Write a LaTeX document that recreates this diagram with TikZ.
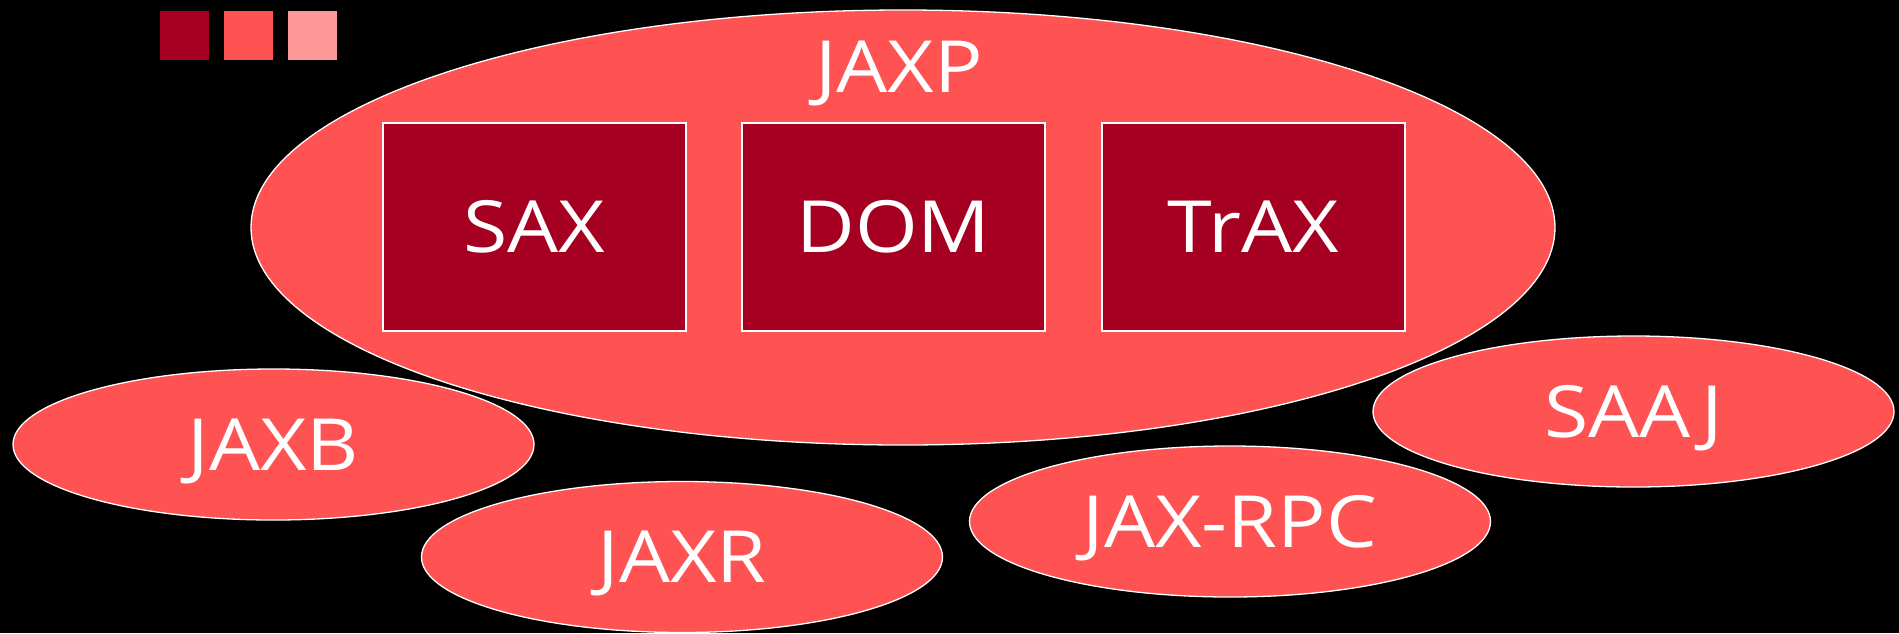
\documentclass[tikz,border=0pt]{standalone}
\usepackage{fontspec}
\setmainfont[FakeStretch=1.12]{Open Sans}
\usetikzlibrary{shapes.geometric}
\definecolor{deepred}{HTML}{A50021}
\definecolor{coral}{HTML}{FF5252}
\definecolor{blush}{HTML}{FF9999}
\tikzset{
  bigtext/.style={text=white, font=\fontsize{72}{80}\selectfont,
    text height=51pt, text depth=0pt},
  api/.style={ellipse, draw=white, line width=1.3pt, fill=coral, inner sep=0pt,
    minimum width=521pt, minimum height=151pt, bigtext},
  part/.style={rectangle, draw=white, line width=1.3pt, fill=deepred, inner sep=0pt,
    minimum width=303pt, minimum height=208pt, bigtext},
  swatch/.style={rectangle, inner sep=0pt, minimum size=49pt},
  caption/.style={inner sep=0pt, bigtext}
}
\begin{document}
\begin{tikzpicture}[x=1pt,y=-1pt]
  \fill[black] (0,0) rectangle (1899,633);
  \useasboundingbox (0,0) rectangle (1899,633);

  % colour key
  \node[swatch, fill=deepred] (k1) at (184.5,35.5) {};
  \node[swatch, fill=coral]   (k2) at (248.5,35.5) {};
  \node[swatch, fill=blush]   (k3) at (312.5,35.5) {};

  % JAXP and its parts
  \node[api, minimum width=1304pt, minimum height=435pt] (jaxp) at (903,227.5) {};
  \node[caption] (jaxplabel) at (899,66.5) {JAXP};
  \node[part] (sax)  at (534.5,227) {SAX};
  \node[part] (dom)  at (893.5,227) {DOM};
  \node[part] (trax) at (1253.5,227) {TrAX};

  % the other APIs
  \node[api] (jaxb)   at (273.5,444.5)  {JAXB};
  \node[api] (jaxr)   at (682,557)      {JAXR};
  \node[api] (jaxrpc) at (1230,521.5)   {JAX-RPC};
  \node[api] (saaj)   at (1633.5,411.5) {SAAJ};
\end{tikzpicture}
\end{document}
